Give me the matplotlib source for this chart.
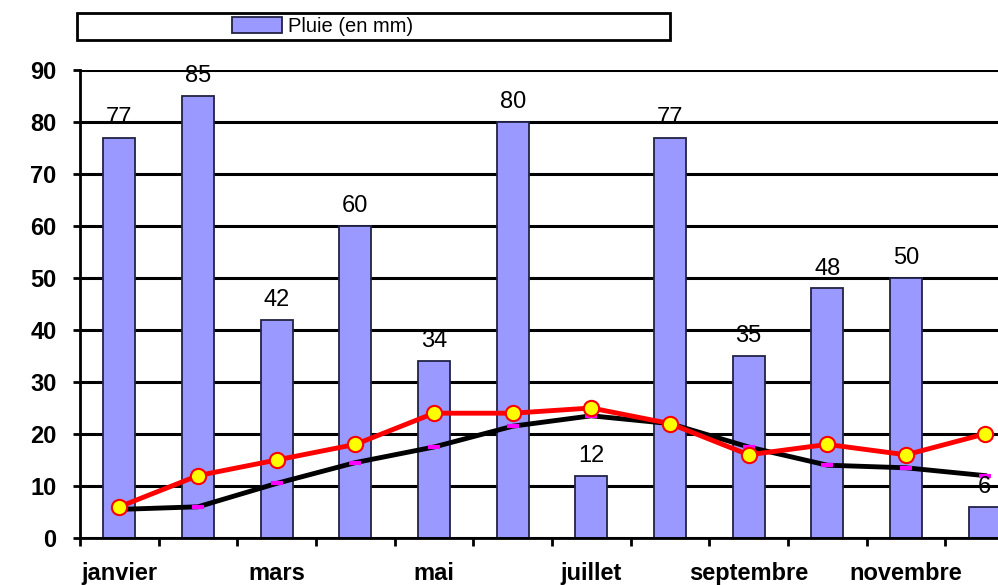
import matplotlib.pyplot as plt
import numpy as np
from matplotlib.patches import Rectangle

mois = ['janvier', 'février', 'mars', 'avril', 'mai', 'juin', 'juillet',
        'août', 'septembre', 'octobre', 'novembre', 'décembre']
pluie = [77, 85, 42, 60, 34, 80, 12, 77, 35, 48, 50, 6]
temp_rouge = [6, 12, 15, 18, 24, 24, 25, 22, 16, 18, 16, 20]
temp_noire = [5.5, 6, 10.5, 14.5, 17.5, 21.5, 23.5, 22, 17.5, 14, 13.5, 12]

plt.rcParams['font.family'] = ['Liberation Sans', 'DejaVu Sans']

fig = plt.figure(figsize=(9.98, 5.85), dpi=100)
# the plot area runs past the right edge of the picture, as in the original
ax = fig.add_axes([80 / 998, 47 / 585, 944 / 998, 468 / 585])

x = np.arange(len(mois))
bars = ax.bar(x, pluie, width=0.41, color='#9999ff', edgecolor='#222244',
              linewidth=1.3, zorder=2, label='Pluie (en mm)')
for xi, v in zip(x, pluie):
    ax.annotate(str(v), (xi, v), xytext=(0, 10), textcoords='offset points',
                ha='center', va='baseline', fontsize=17, zorder=5)

ax.plot(x, temp_noire, color='black', lw=3.5, marker='_', ms=8, mew=3,
        mec='#ff00ff', zorder=3)
ax.plot(x, temp_rouge, color='#ff0000', lw=3.5, marker='o', ms=11,
        mfc='#ffff00', mec='#ff0000', mew=1.5, zorder=4)

ax.set_xlim(-0.5, 11.5)
ax.set_ylim(0, 90)
ax.set_yticks(range(0, 91, 10))
ax.yaxis.grid(True, color='black', lw=2.2)
ax.set_axisbelow(True)
ax.set_xticks(np.arange(-0.5, 12, 1))
ax.set_xticklabels([])
ax.set_xticks(x[::2], minor=True)
ax.set_xticklabels(mois[::2], minor=True, fontsize=17, fontweight='bold')
ax.tick_params(axis='x', which='minor', length=0, pad=17)
ax.tick_params(axis='x', which='major', length=6, width=2, direction='out')
ax.tick_params(axis='y', length=5, width=2, direction='out', labelsize=17,
               pad=12)
for lab in ax.get_yticklabels():
    lab.set_fontweight('bold')
for s in ['top', 'right']:
    ax.spines[s].set_visible(False)
ax.spines['left'].set_linewidth(2)
ax.spines['bottom'].set_linewidth(2)

fig.patches.append(Rectangle((77 / 998, 545 / 585), 593 / 998, 27 / 585,
                             transform=fig.transFigure, fill=False,
                             edgecolor='black', linewidth=2))
fig.legend(handles=[bars], loc='center', bbox_to_anchor=(0.323, 0.955),
           frameon=False, fontsize=14.5, handlelength=2.5, handleheight=0.8,
           handletextpad=0.3)

fig.savefig('out.png', dpi=100)
